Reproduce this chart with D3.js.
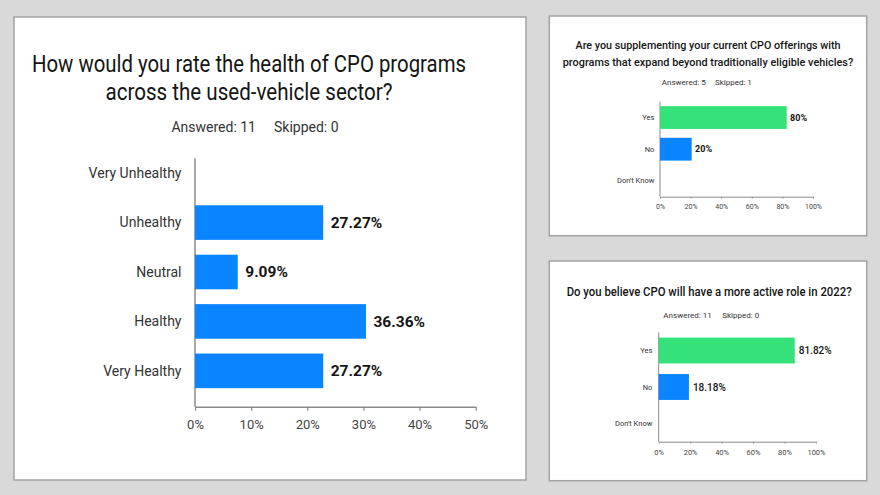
<!DOCTYPE html>
<html>
<head>
<meta charset="utf-8">
<script src="https://cdn.jsdelivr.net/npm/d3@7"></script>
<style>
  body { margin: 0; background: #d9d9d9; }
  svg { display: block; font-family: Roboto, "Noto Sans", sans-serif; }
</style>
</head>
<body>
<svg id="chart"></svg>
<script>
// Chart data
let healthCategories = ["Very Unhealthy", "Unhealthy", "Neutral", "Healthy", "Very Healthy"];
let healthValues = [0, 27.27, 9.09, 36.36, 27.27];
let healthTicks = [0, 10, 20, 30, 40, 50];

let answerCategories = ["Yes", "No", "Don't Know"];
let supplementValues = [80, 20, 0];
let activeRoleValues = [81.82, 18.18, 0];
let percentTicks = [0, 20, 40, 60, 80, 100];

let width = 880;
let height = 495;
let blue = "#0a84ff";
let green = "#35e27a";

let svg = d3.select("#chart").attr("width", width).attr("height", height);

svg.append("rect").attr("width", width).attr("height", height).attr("fill", "#d9d9d9");

// one survey panel
let drawPanel = (c) => {
	let g = svg.append("g");

	g.append("rect")
		.attr("x", c.box[0]).attr("y", c.box[1])
		.attr("width", c.box[2]).attr("height", c.box[3])
		.attr("fill", "#fff").attr("stroke", "#a3a3a3").attr("stroke-width", 1.5);

	// titles in the source are set a bit narrow, so fit them to the measured width
	c.title.forEach((line, i) => {
		g.append("text")
			.attr("x", c.titleX).attr("y", c.titleY[i])
			.attr("text-anchor", "middle")
			.attr("font-size", c.titleSize).attr("font-weight", c.titleWeight)
			.attr("textLength", c.titleLen[i])
			.attr("lengthAdjust", "spacingAndGlyphs")
			.attr("fill", "#151515")
			.text(line);
	});

	g.append("text")
		.attr("x", c.subX - c.subGap / 2).attr("y", c.subY)
		.attr("text-anchor", "end").attr("font-size", c.subSize).attr("fill", "#333")
		.text(c.answered);
	g.append("text")
		.attr("x", c.subX + c.subGap / 2).attr("y", c.subY)
		.attr("text-anchor", "start").attr("font-size", c.subSize).attr("fill", "#333")
		.text(c.skipped);

	// axis scale and bar scale (bars in the source run a little off the printed axis)
	let xScale = d3.scaleLinear()
		.domain([0, d3.max(c.ticks)])
		.range(c.xRange);
	let barScale = d3.scaleLinear()
		.domain([0, c.barMax])
		.range(c.xRange);
	let yScale = d3.scaleBand()
		.domain(c.categories)
		.range(c.yRange)
		.paddingInner(c.padInner)
		.paddingOuter(c.padOuter);

	let xAxis = d3.axisBottom(xScale)
		.tickValues(c.ticks)
		.tickFormat((d) => d + "%")
		.tickSizeInner(c.tickSize)
		.tickSizeOuter(0)
		.tickPadding(c.tickPad);

	let ax = g.append("g")
		.attr("transform", "translate(0," + c.axisY + ")")
		.call(xAxis);
	ax.select(".domain").attr("stroke", "#8a8a8a").attr("stroke-width", c.lineW);
	ax.selectAll(".tick line").attr("stroke", "#8a8a8a").attr("stroke-width", c.lineW * 0.8);
	ax.selectAll(".tick text")
		.attr("font-size", c.tickSize2).attr("fill", "#444")
		.attr("font-family", "Roboto, sans-serif");

	// vertical axis line
	g.append("line")
		.attr("x1", xScale(0)).attr("x2", xScale(0))
		.attr("y1", c.axisTop).attr("y2", c.axisY)
		.attr("stroke", "#8a8a8a").attr("stroke-width", c.lineW);

	g.selectAll(".cat")
		.data(c.categories)
		.enter()
		.append("text")
		.attr("x", xScale(0) - c.catGap)
		.attr("y", (d) => yScale(d) + yScale.bandwidth() / 2)
		.attr("dy", "0.35em")
		.attr("text-anchor", "end")
		.attr("font-size", c.catSize)
		.attr("fill", "#333")
		.text((d) => d);

	let rows = c.categories.map((cat, i) => ({ cat: cat, value: c.values[i], i: i }));

	g.selectAll(".bar")
		.data(rows.filter((d) => d.value > 0))
		.enter()
		.append("rect")
		.attr("x", barScale(0))
		.attr("y", (d) => yScale(d.cat))
		.attr("width", (d) => barScale(d.value) - barScale(0))
		.attr("height", yScale.bandwidth())
		.attr("fill", (d) => (c.greenFirst && d.i === 0 ? green : blue));

	g.selectAll(".val")
		.data(rows.filter((d) => d.value > 0))
		.enter()
		.append("text")
		.attr("x", (d) => barScale(d.value) + c.valGap)
		.attr("y", (d) => yScale(d.cat) + yScale.bandwidth() / 2)
		.attr("dy", "0.35em")
		.attr("font-size", c.valSize)
		.attr("font-weight", c.valWeight)
		.attr("fill", "#151515")
		.text((d) => d.value + "%");
};

drawPanel({
	box: [14, 17, 512, 463],
	title: ["How would you rate the health of CPO programs", "across the used-vehicle sector?"],
	titleX: 249, titleY: [72, 100], titleSize: 23.5, titleWeight: 400, titleLen: [434, 287],
	answered: "Answered: 11", skipped: "Skipped: 0",
	subX: 265, subGap: 18, subY: 132, subSize: 14,
	categories: healthCategories, values: healthValues, ticks: healthTicks,
	barMax: 59.7, greenFirst: false,
	xRange: [195, 475.7], yRange: [141, 403], padInner: 0.3, padOuter: 0.3,
	axisY: 406.7, axisTop: 158.3, lineW: 1.5,
	tickSize: 4, tickPad: 9, tickSize2: 13,
	catGap: 13.5, catSize: 14, valGap: 7.5, valSize: 15.5, valWeight: 700
});

drawPanel({
	box: [549.3, 16, 317.4, 219.7],
	title: ["Are you supplementing your current CPO offerings with", "programs that expand beyond traditionally eligible vehicles?"],
	titleX: 708, titleY: [49.3, 66], titleSize: 11.5, titleWeight: 500, titleLen: [265, 290.5],
	answered: "Answered: 5", skipped: "Skipped: 1",
	subX: 710.3, subGap: 9.3, subY: 85, subSize: 8,
	categories: answerCategories, values: supplementValues, ticks: percentTicks,
	barMax: 96.6, greenFirst: true,
	xRange: [660, 813], yRange: [101.7, 196.7], padInner: 0.28, padOuter: 0.14,
	axisY: 196.7, axisTop: 101.7, lineW: 1,
	tickSize: 2, tickPad: 5.3, tickSize2: 7,
	catGap: 5.7, catSize: 7.5, valGap: 3.4, valSize: 9, valWeight: 700
});

drawPanel({
	box: [549.3, 261, 317.4, 219.7],
	title: ["Do you believe CPO will have a more active role in 2022?"],
	titleX: 709.2, titleY: [295.7], titleSize: 12.5, titleWeight: 500, titleLen: [285],
	answered: "Answered: 11", skipped: "Skipped: 0",
	subX: 717, subGap: 10.6, subY: 317.7, subSize: 8,
	categories: answerCategories, values: activeRoleValues, ticks: percentTicks,
	barMax: 94.6, greenFirst: true,
	xRange: [658.7, 816], yRange: [332.3, 441.7], padInner: 0.29, padOuter: 0.145,
	axisY: 441.7, axisTop: 332.3, lineW: 1,
	tickSize: 2, tickPad: 6.3, tickSize2: 7.5,
	catGap: 6.4, catSize: 7.5, valGap: 4, valSize: 10, valWeight: 500
});
</script>
</body>
</html>
